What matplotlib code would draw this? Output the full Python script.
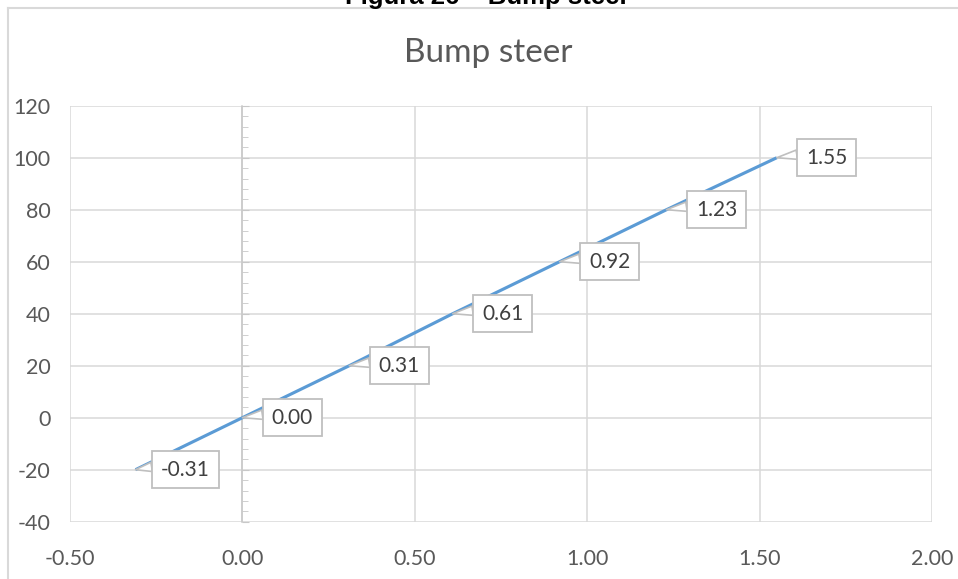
#Bump steer chart: line through the data points with callout labels on each point

import matplotlib.pyplot as plt
from matplotlib.lines import Line2D
from matplotlib.ticker import MultipleLocator

plt.rcParams['font.family'] = ['Lato', 'DejaVu Sans']
plt.rcParams['axes.unicode_minus'] = False

#Data
bump = [-0.31, 0.00, 0.31, 0.61, 0.92, 1.23, 1.55]
steer = [-20, 0, 20, 40, 60, 80, 100]
callouts = ['-0.31', '0.00', '0.31', '0.61', '0.92', '1.23', '1.55']

txt = '#595959'
grid = '#d9d9d9'

fig = plt.figure(figsize=(9.58, 5.79), dpi=100)
ax = fig.add_axes([70/958, 1-521.7/579, 862/958, 416/579])

ax.plot(bump, steer, color='#5b9bd5', lw=2.25, solid_capstyle='butt', zorder=3)

#callout labels
for x, y, s in zip(bump, steer, callouts):
    ax.annotate(s, xy=(x, y), xytext=(50, 0), textcoords='offset pixels',
                ha='center', va='center', fontsize=15, color='#404040',
                bbox=dict(boxstyle='square,pad=0.42', fc='white', ec='#bfbfbf', lw=1.3),
                arrowprops=dict(arrowstyle='wedge,tail_width=0.45,shrink_factor=0.5',
                                fc='white', ec='#bfbfbf', lw=1.2,
                                relpos=(0.0, 0.72), shrinkA=0, shrinkB=0),
                zorder=4)

ax.set_xlim(-0.5, 2.0)
ax.set_ylim(-40, 120)
ax.xaxis.set_major_locator(MultipleLocator(0.5))
ax.yaxis.set_major_locator(MultipleLocator(20))
ax.yaxis.set_minor_locator(MultipleLocator(4))
ax.xaxis.set_major_formatter(lambda v, p: f'{v:.2f}')

ax.grid(True, which='major', color=grid, lw=1.1)
ax.set_axisbelow(True)

for side in ['top', 'right', 'bottom']:
    ax.spines[side].set_visible(False)
ax.spines['left'].set_position(('data', 0))
ax.spines['left'].set_color('#c8c8c8')
ax.spines['left'].set_linewidth(1.1)

#y axis crosses at x=0, labels still at the left edge
ax.tick_params(axis='y', which='major', direction='in', length=5, color='#c8c8c8',
               labelsize=15.5, labelcolor=txt, pad=138)
ax.tick_params(axis='y', which='minor', direction='in', length=4, color='#c8c8c8')
ax.tick_params(axis='x', length=0, labelsize=15.5, labelcolor=txt, pad=20)

fig.text(488/958, 1-53/579, 'Bump steer', ha='center', va='center', fontsize=24, color=txt)

#caption cut off at the top of the picture
fig.text(487/958, 1-4/579, 'Figura 26 – Bump steer', ha='center', va='baseline',
         fontsize=18.5, fontweight='bold', family='Liberation Sans', color='black')

#chart area frame
fig.add_artist(Line2D([7.5/958, 1], [1-7.5/579, 1-7.5/579], color=grid, lw=1.5))
fig.add_artist(Line2D([7.5/958, 7.5/958], [0, 1-7.5/579], color=grid, lw=1.5))

fig.savefig('out.png', dpi=100)
